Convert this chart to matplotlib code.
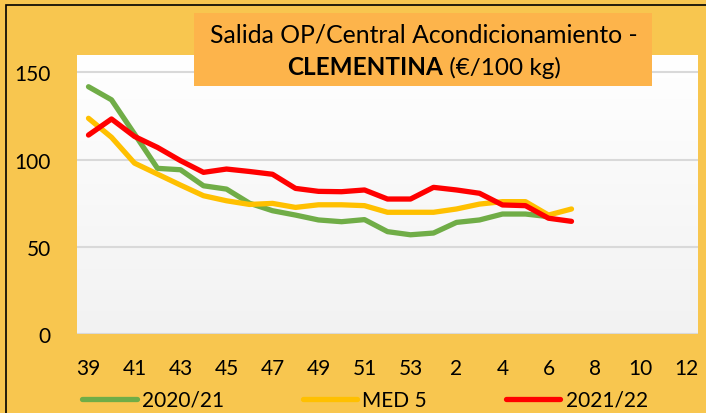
import numpy as np
import matplotlib.pyplot as plt
from matplotlib.patches import Rectangle
from matplotlib.colors import LinearSegmentedColormap
from matplotlib.lines import Line2D

plt.rcParams['font.family'] = ['Lato', 'DejaVu Sans']

# semanas de campaña (39..53, 1..12)
weeks = [str(w) for w in list(range(39, 54)) + list(range(1, 13))]

s2021 = [141.8, 134.3, 114.7, 95.0, 94.2, 85.0, 83.1, 75.0, 70.7, 68.2, 65.4,
         64.4, 65.6, 58.7, 56.9, 57.9, 64.0, 65.4, 68.8, 68.8, 67.3]
med5 = [123.7, 112.8, 98.0, 91.7, 85.4, 79.3, 76.4, 74.3, 74.9, 72.6, 74.1,
        74.1, 73.6, 69.8, 69.8, 69.8, 71.7, 74.5, 75.9, 75.9, 68.2, 71.7]
s2122 = [114.1, 123.3, 113.3, 107.0, 99.4, 92.7, 94.6, 93.2, 91.6, 83.5, 81.8,
         81.6, 82.6, 77.4, 77.4, 84.1, 82.6, 80.7, 74.0, 73.6, 66.4, 64.6]

series = [("2020/21", s2021, "#70AD47"),
          ("MED 5", med5, "#FFC000"),
          ("2021/22", s2122, "#FF0000")]

W, H = 706, 414
bg = "#F8C64F"
fig = plt.figure(figsize=(W / 100, H / 100), dpi=100, facecolor=bg)

# borde exterior (solo visible arriba e izquierda)
fig.patches.append(Rectangle((5.5 / W, -0.1), 1.2, (H - 5.5) / H + 0.1,
                             transform=fig.transFigure, fill=False,
                             edgecolor="black", lw=1.2))

ax = fig.add_axes([77 / W, (H - 335) / H, 621 / W, (335 - 56) / H])
ax.set_xlim(-0.5, len(weeks) - 0.5)
ax.set_ylim(0, 160)

grad = LinearSegmentedColormap.from_list("g", ["#F2F2F2", "#FFFFFF"])
ax.imshow(np.linspace(0, 1, 100).reshape(-1, 1), extent=[-0.5, len(weeks) - 0.5, 0, 160],
          aspect="auto", cmap=grad, origin="lower", zorder=0)

for v in [0, 50, 100, 150]:
    ax.axhline(v, color="#D9D9D9", lw=1.5, zorder=1)

for name, vals, col in series:
    ax.plot(range(len(vals)), vals, color=col, lw=3.8, label=name,
            solid_capstyle="round", solid_joinstyle="round", zorder=3)

ax.set_xticks(range(0, len(weeks), 2))
ax.set_xticklabels(weeks[::2])
ax.set_yticks([0, 50, 100, 150])
ax.tick_params(axis="both", length=0, labelsize=15)
ax.tick_params(axis="x", pad=17)
ax.tick_params(axis="y", pad=19)
for s in ax.spines.values():
    s.set_visible(False)

# título en caja naranja
fig.patches.append(Rectangle((194 / W, (H - 87) / H), (652 - 194) / W, 73 / H,
                             transform=fig.transFigure, facecolor="#FDB44B",
                             edgecolor="none", zorder=5))
cx = 424 / W
fig.text(cx, (H - 35) / H, "Salida OP/Central Acondicionamiento -", ha="center",
         va="center", fontsize=17.8, zorder=6)
r = fig.canvas.get_renderer()
t1 = fig.text(0, 0, "CLEMENTINA", fontsize=17.5, fontweight="bold")
t2 = fig.text(0, 0, " (€/100 kg)", fontsize=17.5)
w1 = t1.get_window_extent(r).width
w2 = t2.get_window_extent(r).width
x0 = cx * W - (w1 + w2) / 2
y2 = (H - 68) / H
t1.set_position((x0 / W, y2))
t1.set_va("center")
t1.set_zorder(6)
t2.set_position(((x0 + w1) / W, y2))
t2.set_va("center")
t2.set_zorder(6)

handles = [Line2D([], [], color=c, lw=3.8, solid_capstyle="round") for _, _, c in series]
fig.legend(handles, [n for n, _, _ in series], loc="center", ncol=3,
           bbox_to_anchor=(365 / W, (H - 401) / H), frameon=False, fontsize=15,
           handlelength=2.6, handletextpad=0.25, columnspacing=3.8)

fig.savefig("out.png", dpi=100, facecolor=bg)
